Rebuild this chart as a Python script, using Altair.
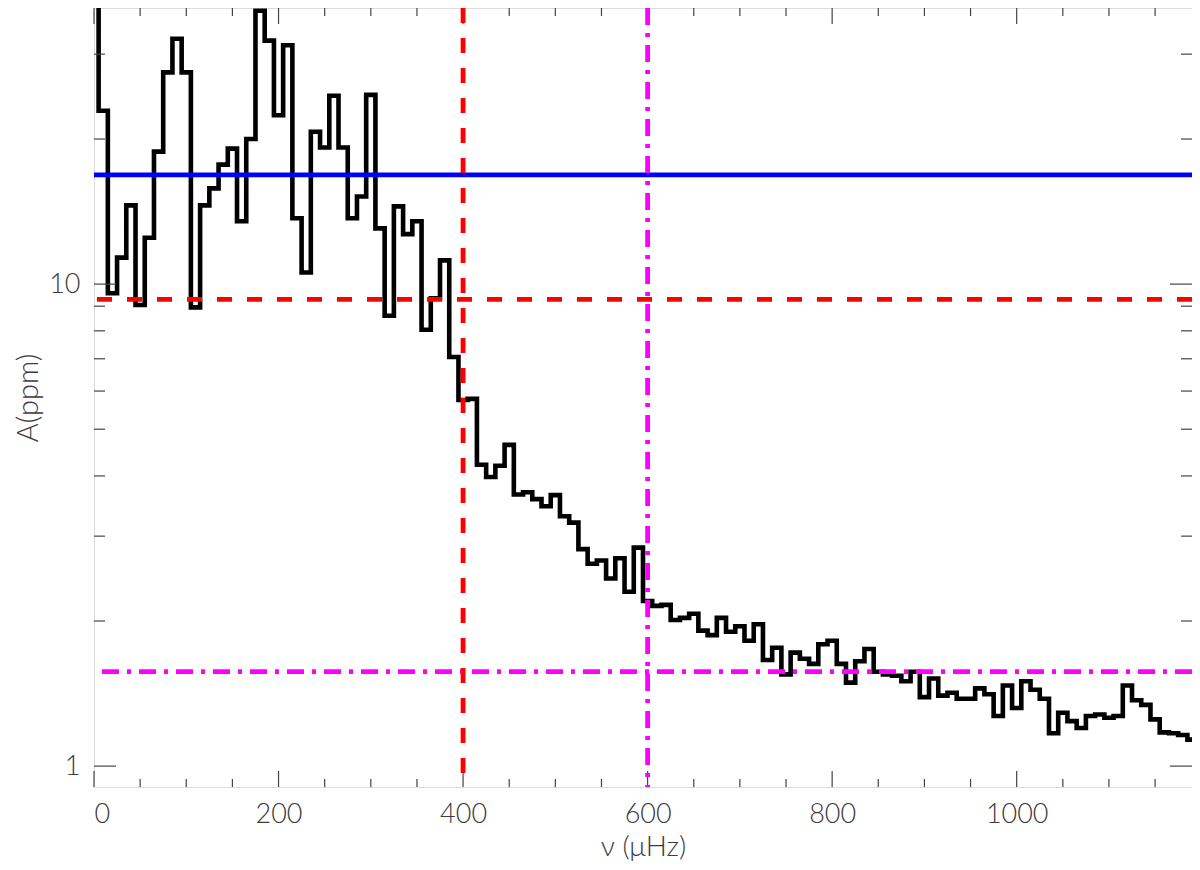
import altair as alt
import pandas as pd

# ---------------- data ----------------
freq = list(range(0, 1200, 10))  # bin centres (muHz)
amp = [
    45.0, 22.9, 9.57, 11.35, 14.57, 9.05, 12.48, 18.83, 27.5, 32.3,
    27.5, 8.95, 14.57, 15.8, 17.7, 19.1, 13.5, 20.0, 36.9, 32.0,
    22.4, 31.3, 13.7, 10.57, 20.7, 19.2, 24.6, 19.2, 13.7, 15.2,
    24.7, 13.05, 8.60, 14.5, 12.7, 13.5, 8.04, 9.34, 11.2, 7.06,
    5.75, 5.78, 4.22, 3.98, 4.20, 4.64, 3.66, 3.70, 3.58, 3.46,
    3.65, 3.30, 3.20, 2.82, 2.63, 2.67, 2.45, 2.70, 2.30, 2.84,
    2.20, 2.15, 2.16, 2.01, 2.03, 2.07, 1.91, 1.87, 2.03, 1.90,
    1.95, 1.82, 1.97, 1.66, 1.76, 1.55, 1.72, 1.67, 1.63, 1.79,
    1.82, 1.63, 1.49, 1.65, 1.75, 1.57, 1.55, 1.54, 1.50, 1.57,
    1.39, 1.52, 1.40, 1.42, 1.38, 1.38, 1.45, 1.41, 1.27, 1.47,
    1.32, 1.50, 1.44, 1.38, 1.17, 1.29, 1.24, 1.20, 1.27, 1.28,
    1.26, 1.27, 1.47, 1.37, 1.34, 1.25, 1.175, 1.17, 1.16, 1.135,
]

blue_level = [16.85]
red_level = [9.30]
magenta_level = [1.571]
red_freq = [400]
magenta_freq = [600]

x_labels = [0, 200, 400, 600, 800, 1000]
x_minor = [50, 100, 150, 250, 300, 350, 450, 500, 550, 650, 700, 750,
           850, 900, 950, 1050, 1100, 1150]
y_labels = [1, 10]
y_minor = [2, 3, 4, 5, 6, 7, 8, 9, 20, 30]

X_DOMAIN = [0, 1190]
Y_DOMAIN = [0.905, 37.4]

# ---------------- layout ----------------
W, H = 1098, 779
FONT = "Lato"
TXT = "#3c3c3c"

xs = alt.Scale(domain=X_DOMAIN, nice=False, zero=False)
ys = alt.Scale(type="log", domain=Y_DOMAIN, nice=False)

hist_df = pd.DataFrame({"nu": freq, "A": amp})

x_axis = alt.Axis(values=x_labels, format="d", ticks=False, domain=False, grid=False,
                  labelFont=FONT, labelFontSize=27, labelFontWeight=300, labelColor=TXT,
                  labelBaseline="middle", labelPadding=27,
                  title="ν (μHz)", titleFont=FONT, titleFontSize=28, titleFontWeight=300,
                  titleColor=TXT, titleBaseline="middle", titleY=60)
y_axis = alt.Axis(values=y_labels, format="d", ticks=False, domain=False, grid=False,
                  labelFont=FONT, labelFontSize=27, labelFontWeight=300, labelColor=TXT,
                  labelPadding=14,
                  title="A(ppm)", titleFont=FONT, titleFontSize=29, titleFontWeight=300,
                  titleColor=TXT, titleBaseline="middle", titleX=-66, titleY=H / 2,
                  titleAngle=270)


def X(field):
    return alt.X(field, scale=xs, axis=x_axis)


def Y(field):
    return alt.Y(field, scale=ys, axis=y_axis)


hist = alt.Chart(hist_df).mark_line(
    interpolate="step", color="black", strokeWidth=4.6, clip=True, strokeJoin="miter"
).encode(x=X("nu:Q"), y=Y("A:Q"))


def hrule(vals, color, dash=None):
    kw = dict(color=color, strokeWidth=4.8)
    if dash:
        kw["strokeDash"] = dash
    return alt.Chart(pd.DataFrame({"v": vals})).mark_rule(**kw).encode(y=Y("v:Q"))


def vrule(vals, color, dash):
    return alt.Chart(pd.DataFrame({"v": vals})).mark_rule(
        color=color, strokeWidth=4.8, strokeDash=dash
    ).encode(x=X("v:Q"))


blue = hrule(blue_level, "#0000ff")
red_h = hrule(red_level, "#ff0000", [15, 15])
mag_h = hrule(magenta_level, "#ff00ff", [17, 8, 4, 8])
red_v = vrule(red_freq, "#ff0000", [15, 15])
mag_v = vrule(magenta_freq, "#ff00ff", [17, 8, 4, 8])

TICK = "#444444"


def xticks(vals, length):
    df = pd.DataFrame({"v": vals})
    bottom = alt.Chart(df).mark_rule(color=TICK, strokeWidth=1.2).encode(
        x=X("v:Q"), y=alt.value(H), y2=alt.value(H - length))
    top = alt.Chart(df).mark_rule(color=TICK, strokeWidth=1.2).encode(
        x=X("v:Q"), y=alt.value(0), y2=alt.value(length))
    return [bottom, top]


def yticks(vals, length):
    df = pd.DataFrame({"v": vals})
    left = alt.Chart(df).mark_rule(color=TICK, strokeWidth=1.2).encode(
        y=Y("v:Q"), x=alt.value(0), x2=alt.value(length))
    right = alt.Chart(df).mark_rule(color=TICK, strokeWidth=1.2).encode(
        y=Y("v:Q"), x=alt.value(W), x2=alt.value(W - length))
    return [left, right]


tick_layers = (xticks(x_labels, 16) + xticks(x_minor, 8)
               + yticks(y_labels, 22) + yticks(y_minor, 11))

chart = alt.layer(
    hist, *tick_layers, blue, red_h, mag_h, red_v, mag_v
).properties(
    width=W, height=H,
    autosize=alt.AutoSizeParams(type="none"),
    padding={"left": 86, "top": 0, "right": 0, "bottom": 74},
).configure_view(
    stroke="#444444", strokeWidth=1.2
).configure(background="white")

chart.save("out.html", embed_options={"renderer": "svg", "actions": False})
